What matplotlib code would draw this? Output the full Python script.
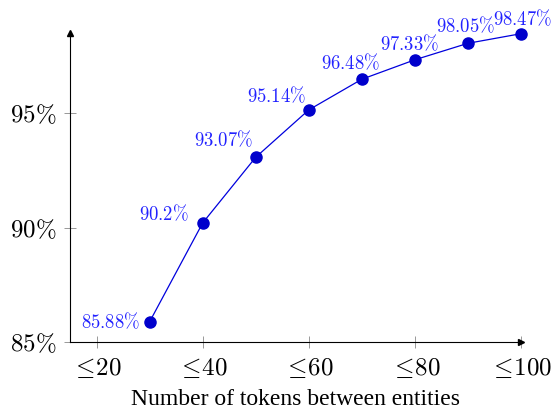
import matplotlib.pyplot as plt

plt.rcParams['mathtext.fontset'] = 'cm'
plt.rcParams['font.family'] = 'serif'
plt.rcParams['font.serif'] = ['Liberation Serif', 'DejaVu Serif']

tokens = [30, 40, 50, 60, 70, 80, 90, 100]
accuracy = [85.88, 90.2, 93.07, 95.14, 96.48, 97.33, 98.05, 98.47]
x_ticks = [20, 40, 60, 80, 100]
y_ticks = [85, 90, 95]

# label offsets in pixels, (dx, dy) from each point
label_offsets = [(-9, 0), (-39, 9), (-32, 17), (-32, 14), (-11, 16), (-5, 16), (-2, 17), (2, 15)]
label_align = ['right', 'center', 'center', 'center', 'center', 'center', 'center', 'center']

fig = plt.figure(figsize=(5.59, 4.11), dpi=100)
ax = fig.add_axes([70 / 559, 1 - 342 / 411, (521 - 70) / 559, (342 - 33) / 411])

ax.plot(tokens, accuracy, color='#0000dd', lw=0.9, marker='o', ms=8,
        markerfacecolor='#0000cc', markeredgecolor='#0000cc', clip_on=False, zorder=3)

for x, y, (dx, dy), ha in zip(tokens, accuracy, label_offsets, label_align):
    lbl = f'{y:.2f}'.rstrip('0') if y != 85.88 else '85.88'
    ax.annotate(rf'${lbl}\%$', (x, y), xytext=(dx, dy), textcoords='offset pixels',
                ha=ha, va='center', color='#2222ff', fontsize=13.5, annotation_clip=False)

ax.set_xlim(15, 100)
ax.set_ylim(85, 98.5)
ax.set_xticks(x_ticks)
ax.set_xticklabels([rf'$\leq\!{t}$' for t in x_ticks], fontsize=18)
ax.set_yticks(y_ticks)
ax.set_yticklabels([rf'${t}\%$' for t in y_ticks], fontsize=18)
ax.tick_params(direction='inout', length=8, width=0.6, color='#888888', pad=6)
ax.tick_params(axis='x', pad=7)

for side in ['top', 'right']:
    ax.spines[side].set_visible(False)
for side in ['left', 'bottom']:
    ax.spines[side].set_linewidth(0.8)

# axis arrows
ax.plot(1, 0, '>k', ms=5, transform=ax.transAxes, clip_on=False)
ax.plot(0, 1, '^k', ms=5, transform=ax.transAxes, clip_on=False)

ax.set_xlabel('Number of tokens between entities', fontsize=17, labelpad=6)

fig.savefig('out.png', dpi=100)
